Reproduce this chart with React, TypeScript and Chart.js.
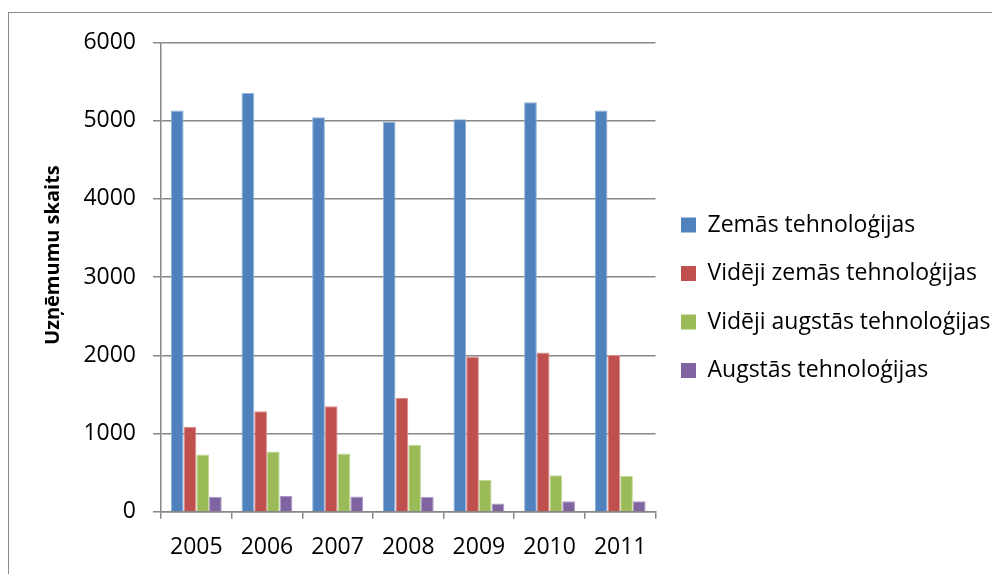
import React, { useEffect, useRef } from "react";
import { Chart, registerables } from "chart.js";

Chart.register(...registerables);

const years = ["2005", "2006", "2007", "2008", "2009", "2010", "2011"];
const zemasTehnologijas = [5130, 5355, 5045, 4985, 5020, 5235, 5130];
const videjiZemasTehnologijas = [1085, 1285, 1350, 1455, 1980, 2035, 2005];
const videjiAugstasTehnologijas = [730, 770, 745, 855, 405, 465, 455];
const augstasTehnologijas = [190, 200, 195, 190, 105, 135, 135];
const seriesNames = [
  "Zemās tehnoloģijas",
  "Vidēji zemās tehnoloģijas",
  "Vidēji augstās tehnoloģijas",
  "Augstās tehnoloģijas",
];
const seriesColors = ["#4F81BD", "#C0504D", "#9BBB59", "#8064A2"];
const seriesEdges = ["#8FB0DA", "#DA8E8C", "#C2D99A", "#AC98C6"];
const axisTitle = "Uzņēmumu skaits";
const yMin = 0;
const yMax = 6000;
const yStep = 1000;

const FONT = "'Open Sans', 'Noto Sans', sans-serif";
const GRID = "#878787";
const LEGEND_WIDTH = 336.5;
const LEGEND_SPAN = 595.5;

// keeps the legend box at a fixed width so the plot area ends where the reference's does
const legendBoxPlugin = {
  id: "legendBox",
  beforeLayout(chart: any) {
    const lg = chart.legend;
    if (lg && !lg.__fixedWidth) {
      const orig = lg.fit.bind(lg);
      lg.fit = () => {
        orig();
        lg.width = LEGEND_WIDTH;
      };
      lg.__fixedWidth = true;
    }
  },
  afterLayout(chart: any) {
    const lg = chart.legend;
    if (lg) {
      lg.top = 0;
      lg.bottom = LEGEND_SPAN;
      lg.height = LEGEND_SPAN;
    }
  },
};

// rotated y-axis title, placed left of the tick labels
const yTitlePlugin = {
  id: "yTitle",
  afterDraw(chart: any) {
    const { ctx, chartArea } = chart;
    ctx.save();
    ctx.font = `bold 20px ${FONT}`;
    ctx.fillStyle = "#000";
    ctx.textAlign = "center";
    ctx.textBaseline = "middle";
    ctx.translate(53, (chartArea.top + chartArea.bottom) / 2 - 22);
    ctx.rotate(-Math.PI / 2);
    ctx.fillText(axisTitle, 0, 0);
    ctx.restore();
  },
};

export default function App() {
  const ref = useRef<HTMLCanvasElement>(null);

  useEffect(() => {
    if (!ref.current) return;
    const values = [
      zemasTehnologijas,
      videjiZemasTehnologijas,
      videjiAugstasTehnologijas,
      augstasTehnologijas,
    ];
    const chart = new Chart(ref.current, {
      type: "bar",
      data: {
        labels: years,
        datasets: seriesNames.map((name, i) => ({
          label: name,
          data: values[i],
          backgroundColor: seriesColors[i],
          borderColor: seriesEdges[i],
          borderWidth: { left: 1, right: 1, top: 1, bottom: 0 },
          categoryPercentage: 0.72,
          barPercentage: 1.0,
        })),
      },
      plugins: [legendBoxPlugin, yTitlePlugin],
      options: {
        responsive: false,
        animation: false,
        devicePixelRatio: 1,
        layout: { padding: { left: 0, right: 0, top: 42.5, bottom: 2.3 } },
        plugins: {
          tooltip: { enabled: false },
          legend: {
            position: "right",
            labels: {
              boxWidth: 15,
              boxHeight: 15,
              padding: 25.5,
              color: "#000",
              font: { family: FONT, size: 23 },
              generateLabels: (chart: any) =>
                chart.data.datasets.map((ds: any, i: number) => ({
                  text: ds.label,
                  fillStyle: seriesColors[i],
                  strokeStyle: seriesColors[i],
                  lineWidth: 0,
                  hidden: false,
                  datasetIndex: i,
                  fontColor: "#000",
                })),
            },
          },
        },
        scales: {
          x: {
            grid: {
              display: true,
              drawOnChartArea: false,
              drawTicks: true,
              tickLength: 7,
              color: GRID,
              lineWidth: 1.5,
              offset: true,
            },
            border: { display: true, color: GRID, width: 1.5 },
            ticks: {
              color: "#000",
              padding: 15,
              maxRotation: 0,
              font: { family: FONT, size: 23 },
            },
            afterFit: (scale: any) => {
              scale.height = 60;
            },
          },
          y: {
            min: yMin,
            max: yMax,
            ticks: {
              stepSize: yStep,
              color: "#000",
              padding: 17,
              font: { family: FONT, size: 23 },
              callback: (v: any) => String(v),
            },
            grid: {
              color: GRID,
              lineWidth: 1.5,
              tickLength: 8,
              drawTicks: true,
            },
            border: { display: true, color: GRID, width: 1.5 },
            afterFit: (scale: any) => {
              scale.width = 161;
            },
          },
        },
      },
    });
    return () => chart.destroy();
  }, []);

  return (
    <div
      style={{
        position: "fixed",
        left: 0,
        top: 0,
        width: 992,
        height: 574,
        overflow: "hidden",
        background: "#fff",
      }}
    >
      <div
        style={{
          position: "absolute",
          left: 8,
          top: 12,
          width: 1200,
          height: 800,
          border: "1px solid #8a8a8a",
        }}
      />
      <canvas
        ref={ref}
        width={992}
        height={574}
        style={{ position: "absolute", left: 0, top: 0, width: 992, height: 574 }}
      />
    </div>
  );
}
